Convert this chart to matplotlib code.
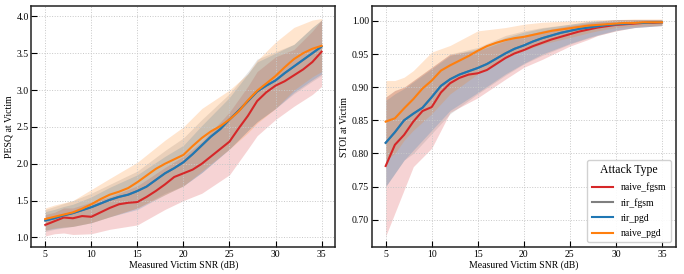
import matplotlib
matplotlib.use("Agg")
import matplotlib.pyplot as plt
import numpy as np

plt.rcParams['font.family'] = ['Liberation Serif', 'DejaVu Serif']
plt.rcParams['mathtext.fontset'] = 'stix'

snr = list(range(5, 36))
series = ["naive_fgsm", "rir_fgsm", "rir_pgd", "naive_pgd"]
colors = {"naive_fgsm": "#d62728", "rir_fgsm": "#7f7f7f", "rir_pgd": "#1f77b4", "naive_pgd": "#ff7f0e"}

# PESQ means
pesq_naive_fgsm = [1.17, 1.22, 1.27, 1.26, 1.29, 1.28, 1.34, 1.40, 1.45, 1.47, 1.48, 1.55, 1.63, 1.72, 1.82, 1.87,
                   1.92, 2.00, 2.10, 2.20, 2.30, 2.48, 2.65, 2.85, 2.97, 3.06, 3.12, 3.20, 3.28, 3.38, 3.52]
pesq_rir_pgd = [1.23, 1.26, 1.30, 1.33, 1.37, 1.41, 1.46, 1.51, 1.55, 1.58, 1.63, 1.69, 1.78, 1.87, 1.94, 2.02,
                2.13, 2.25, 2.37, 2.47, 2.60, 2.72, 2.85, 2.98, 3.06, 3.13, 3.23, 3.32, 3.41, 3.50, 3.59]
pesq_rir_fgsm = [1.23, 1.26, 1.30, 1.33, 1.37, 1.41, 1.46, 1.51, 1.55, 1.58, 1.63, 1.69, 1.78, 1.87, 1.94, 2.02,
                 2.13, 2.25, 2.37, 2.47, 2.60, 2.72, 2.85, 2.98, 3.06, 3.13, 3.23, 3.32, 3.41, 3.50, 3.59]
pesq_naive_pgd = [1.25, 1.28, 1.31, 1.34, 1.39, 1.45, 1.52, 1.58, 1.62, 1.67, 1.75, 1.84, 1.93, 2.00, 2.06, 2.12,
                  2.24, 2.35, 2.44, 2.51, 2.60, 2.71, 2.86, 2.99, 3.09, 3.19, 3.31, 3.42, 3.50, 3.56, 3.60]

band_x = [5, 6, 7, 8, 10, 12, 15, 18, 20, 22, 25, 27, 28, 30, 32, 34, 35]
pesq_lo = {
    "naive_fgsm": [1.02, 1.05, 1.06, 1.04, 1.05, 1.11, 1.17, 1.38, 1.50, 1.60, 1.85, 2.20, 2.38, 2.60, 2.78, 2.94, 3.05],
    "rir_fgsm":   [1.08, 1.11, 1.13, 1.15, 1.20, 1.28, 1.40, 1.60, 1.70, 1.88, 2.20, 2.45, 2.57, 2.75, 2.95, 3.12, 3.20],
    "rir_pgd":    [1.10, 1.12, 1.14, 1.15, 1.20, 1.28, 1.38, 1.58, 1.70, 1.88, 2.20, 2.45, 2.57, 2.75, 2.97, 3.14, 3.22],
    "naive_pgd":  [1.10, 1.13, 1.14, 1.15, 1.20, 1.28, 1.40, 1.58, 1.70, 1.90, 2.20, 2.42, 2.55, 2.75, 3.00, 3.18, 3.25],
}
pesq_hi = {
    "naive_fgsm": [1.31, 1.34, 1.40, 1.40, 1.48, 1.55, 1.70, 1.95, 2.10, 2.30, 2.70, 3.05, 3.25, 3.45, 3.55, 3.80, 3.95],
    "rir_fgsm":   [1.38, 1.42, 1.46, 1.50, 1.60, 1.72, 1.90, 2.18, 2.35, 2.60, 2.95, 3.25, 3.42, 3.52, 3.62, 3.85, 3.95],
    "rir_pgd":    [1.35, 1.38, 1.42, 1.45, 1.55, 1.68, 1.85, 2.10, 2.25, 2.52, 2.90, 3.22, 3.38, 3.50, 3.62, 3.85, 3.95],
    "naive_pgd":  [1.40, 1.44, 1.47, 1.50, 1.65, 1.80, 2.02, 2.32, 2.50, 2.75, 3.00, 3.22, 3.40, 3.65, 3.85, 3.95, 3.97],
}

# STOI means
stoi_naive_fgsm = [0.781, 0.813, 0.828, 0.848, 0.864, 0.870, 0.892, 0.906, 0.914, 0.919, 0.921, 0.926, 0.935, 0.944,
                   0.951, 0.956, 0.962, 0.967, 0.972, 0.976, 0.980, 0.984, 0.987, 0.990, 0.992, 0.994, 0.995, 0.996,
                   0.997, 0.997, 0.998]
stoi_rir_pgd = [0.816, 0.832, 0.850, 0.860, 0.869, 0.885, 0.902, 0.912, 0.919, 0.924, 0.929, 0.935, 0.943, 0.951,
                0.958, 0.963, 0.969, 0.974, 0.978, 0.982, 0.985, 0.988, 0.990, 0.992, 0.994, 0.995, 0.996, 0.997,
                0.997, 0.998, 0.998]
stoi_rir_fgsm = [0.816, 0.832, 0.850, 0.860, 0.869, 0.885, 0.902, 0.912, 0.919, 0.924, 0.929, 0.935, 0.943, 0.951,
                 0.958, 0.963, 0.969, 0.974, 0.978, 0.982, 0.985, 0.988, 0.990, 0.992, 0.994, 0.995, 0.996, 0.997,
                 0.997, 0.998, 0.998]
stoi_naive_pgd = [0.848, 0.853, 0.868, 0.882, 0.898, 0.910, 0.925, 0.933, 0.940, 0.947, 0.955, 0.962, 0.967, 0.971,
                  0.974, 0.976, 0.979, 0.982, 0.985, 0.987, 0.989, 0.991, 0.993, 0.994, 0.995, 0.996, 0.997, 0.997,
                  0.998, 0.998, 0.998]

stoi_lo = {
    "naive_fgsm": [0.675, 0.710, 0.745, 0.780, 0.808, 0.862, 0.884, 0.912, 0.930, 0.942, 0.962, 0.972, 0.978, 0.985, 0.990, 0.992, 0.993],
    "rir_fgsm":   [0.750, 0.770, 0.790, 0.800, 0.830, 0.860, 0.890, 0.918, 0.935, 0.948, 0.965, 0.974, 0.978, 0.985, 0.990, 0.992, 0.993],
    "rir_pgd":    [0.750, 0.770, 0.790, 0.805, 0.835, 0.865, 0.892, 0.920, 0.936, 0.950, 0.966, 0.975, 0.979, 0.986, 0.990, 0.992, 0.993],
    "naive_pgd":  [0.790, 0.800, 0.820, 0.835, 0.860, 0.890, 0.920, 0.945, 0.955, 0.965, 0.975, 0.982, 0.985, 0.990, 0.992, 0.993, 0.994],
}
stoi_hi = {
    "naive_fgsm": [0.885, 0.895, 0.900, 0.910, 0.930, 0.950, 0.955, 0.970, 0.978, 0.985, 0.993, 0.997, 0.999, 1.002, 1.002, 1.002, 1.002],
    "rir_fgsm":   [0.885, 0.895, 0.900, 0.910, 0.930, 0.950, 0.960, 0.978, 0.985, 0.990, 0.995, 0.999, 1.000, 1.002, 1.002, 1.002, 1.002],
    "rir_pgd":    [0.880, 0.890, 0.898, 0.908, 0.928, 0.948, 0.958, 0.975, 0.983, 0.989, 0.995, 0.999, 1.000, 1.002, 1.002, 1.002, 1.002],
    "naive_pgd":  [0.910, 0.910, 0.915, 0.925, 0.953, 0.963, 0.985, 0.990, 0.995, 0.998, 1.000, 1.001, 1.002, 1.002, 1.003, 1.003, 1.003],
}

pesq = {"naive_fgsm": pesq_naive_fgsm, "rir_fgsm": pesq_rir_fgsm, "rir_pgd": pesq_rir_pgd, "naive_pgd": pesq_naive_pgd}
stoi = {"naive_fgsm": stoi_naive_fgsm, "rir_fgsm": stoi_rir_fgsm, "rir_pgd": stoi_rir_pgd, "naive_pgd": stoi_naive_pgd}

fig, axes = plt.subplots(1, 2, figsize=(6.84, 2.74), dpi=100)
fig.subplots_adjust(left=0.046, right=0.988, bottom=0.098, top=0.978, wspace=0.12)

for ax, means, lo, hi, ylabel, yticks in [
    (axes[0], pesq, pesq_lo, pesq_hi, "PESQ at Victim", [1.0, 1.5, 2.0, 2.5, 3.0, 3.5, 4.0]),
    (axes[1], stoi, stoi_lo, stoi_hi, "STOI at Victim", [0.70, 0.75, 0.80, 0.85, 0.90, 0.95, 1.00]),
]:
    for s in series:
        ax.fill_between(band_x, lo[s], hi[s], color=colors[s], alpha=0.2, linewidth=0)
    for s in series:
        ax.plot(snr, means[s], color=colors[s], linewidth=1.5, label=s)
    ax.set_xlabel("Measured Victim SNR (dB)", fontsize=7, labelpad=1)
    ax.set_ylabel(ylabel, fontsize=7, labelpad=2)
    ax.set_xticks([5, 10, 15, 20, 25, 30, 35])
    ax.set_yticks(yticks)
    if ylabel.startswith("PESQ"):
        ax.set_yticklabels([f"{v:.1f}" for v in yticks])
    else:
        ax.set_yticklabels([f"{v:.2f}" for v in yticks])
    ax.tick_params(direction="in", labelsize=7, length=4, width=0.8, pad=2)
    ax.grid(True, linestyle=":", color="#c8c8c8", linewidth=0.7)
    for sp in ax.spines.values():
        sp.set_linewidth(1.1)
        sp.set_color("#222222")

axes[0].set_ylim(0.868, 4.14)
axes[1].set_ylim(0.6585, 1.0225)

leg = axes[1].legend(title="Attack Type", loc="lower right", fontsize=7, title_fontsize=8.5,
                     frameon=True, fancybox=True, framealpha=0.9, edgecolor="#cccccc",
                     handlelength=2.2, borderpad=0.45, labelspacing=0.62, handletextpad=0.8)

fig.savefig("out.png", dpi=100)
